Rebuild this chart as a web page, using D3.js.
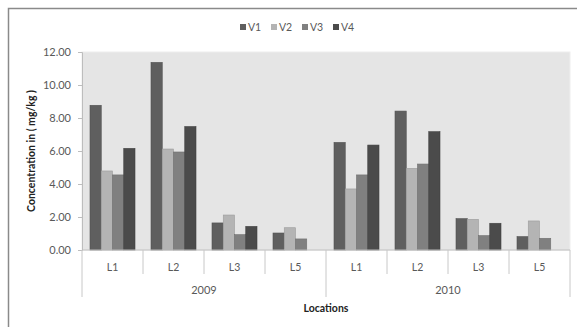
<!DOCTYPE html>
<html lang="en">
<head>
    <meta charset="UTF-8">
    <title>Concentration by location</title>
    <script src="https://d3js.org/d3.v7.min.js"></script>
    <style>
        body { margin: 0; background: #fff; }
        text { font-family: Lato, "Open Sans", sans-serif; }
    </style>
</head>
<body>
    <svg width="577" height="327"></svg>
    <script>
        // Data
        const years = ["2009", "2010"];
        const locations = ["L1", "L2", "L3", "L5"];
        const seriesNames = ["V1", "V2", "V3", "V4"];
        const V1 = [8.77, 11.37, 1.64, 1.03, 6.52, 8.42, 1.90, 0.81];
        const V2 = [4.79, 6.12, 2.12, 1.35, 3.70, 4.95, 1.86, 1.76];
        const V3 = [4.55, 5.94, 0.93, 0.67, 4.55, 5.21, 0.87, 0.71];
        const V4 = [6.16, 7.48, 1.43, 0.00, 6.36, 7.17, 1.62, 0.00];
        const yTicks = [0, 2, 4, 6, 8, 10, 12];
        const colors = ["#5f5f5f", "#b4b4b4", "#808080", "#4b4b4b"];

        const seriesValues = [V1, V2, V3, V4];
        const keys = [];
        years.forEach(y => locations.forEach(l => keys.push(y + "|" + l)));

        const margin = {top: 52, right: 7, bottom: 77, left: 82};
        const W = 577, H = 327;
        const plotW = W - margin.left - margin.right;
        const plotH = H - margin.top - margin.bottom;

        const svg = d3.select("svg");

        // outer chart frame (runs off the right and bottom of the picture)
        svg.append("rect")
            .attr("x", 8.5).attr("y", 8.5)
            .attr("width", 600).attr("height", 340)
            .attr("fill", "none")
            .attr("stroke", "#8a8a8a")
            .attr("stroke-width", 1.5);

        const g = svg.append("g")
            .attr("transform", `translate(${margin.left},${margin.top})`);

        const x = d3.scaleBand().domain(keys).range([0, plotW]);
        const xIn = d3.scaleBand().domain(seriesNames)
            .range([8, x.bandwidth() - 8]);
        const y = d3.scaleLinear().domain([0, 12]).range([plotH, 0]);

        // plot background
        g.append("rect")
            .attr("width", plotW).attr("height", plotH)
            .attr("fill", "#e5e5e5")
            .attr("stroke", "#eeeeee");

        // bars
        seriesNames.forEach((s, si) => {
            g.append("g").selectAll("rect")
              .data(seriesValues[si].map((v, i) => ({key: keys[i], v})))
              .enter().append("rect")
                .attr("x", d => x(d.key) + xIn(s))
                .attr("y", d => y(d.v))
                .attr("width", xIn.bandwidth())
                .attr("height", d => plotH - y(d.v))
                .attr("fill", colors[si])
                .attr("stroke", d3.color(colors[si]).darker(0.4))
                .attr("stroke-width", 0.6);
        });

        // y axis
        const yAxis = g.append("g")
            .call(d3.axisLeft(y).tickValues(yTicks).tickFormat(d3.format(".2f")).tickSize(4).tickPadding(7));
        yAxis.select(".domain").attr("stroke", "#bdbdbd");
        yAxis.selectAll(".tick line").attr("stroke", "#bdbdbd");
        yAxis.selectAll(".tick text")
            .attr("fill", "#595959")
            .style("font-family", "Lato, sans-serif")
            .style("font-size", "11px");

        // x axis line
        g.append("line")
            .attr("x1", 0).attr("x2", plotW)
            .attr("y1", plotH).attr("y2", plotH)
            .attr("stroke", "#bdbdbd");

        // separators between locations and years
        const seps = d3.range(keys.length + 1);
        g.append("g").selectAll("line")
          .data(seps)
          .enter().append("line")
            .attr("x1", i => i * x.bandwidth())
            .attr("x2", i => i * x.bandwidth())
            .attr("y1", plotH)
            .attr("y2", i => plotH + (i % locations.length === 0 ? 47 : 24))
            .attr("stroke", "#c8c8c8");

        // location labels
        g.append("g").selectAll("text")
          .data(keys)
          .enter().append("text")
            .attr("x", d => x(d) + x.bandwidth() / 2)
            .attr("y", plotH + 21)
            .attr("text-anchor", "middle")
            .attr("fill", "#595959")
            .style("font-size", "10.5px")
            .text(d => d.split("|")[1]);

        // year labels
        g.append("g").selectAll("text")
          .data(years)
          .enter().append("text")
            .attr("x", d => x(d + "|" + locations[0]) + x.bandwidth() * locations.length / 2)
            .attr("y", plotH + 44)
            .attr("text-anchor", "middle")
            .attr("fill", "#595959")
            .style("font-size", "11px")
            .text(d => d);

        // axis titles
        g.append("text")
            .attr("x", plotW / 2)
            .attr("y", plotH + 62)
            .attr("text-anchor", "middle")
            .attr("fill", "#222")
            .style("font-size", "10.5px")
            .style("font-weight", "bold")
            .text("Locations");

        svg.append("text")
            .attr("transform", `translate(35,${margin.top + plotH / 2}) rotate(-90)`)
            .attr("text-anchor", "middle")
            .attr("fill", "#222")
            .style("font-size", "10.5px")
            .style("font-weight", "bold")
            .text("Concentration in ( mg/kg )");

        // legend
        const legend = svg.append("g").attr("transform", "translate(240,24)");
        const lx = d3.scalePoint().domain(seriesNames).range([0, 93]);
        const item = legend.selectAll("g")
          .data(seriesNames)
          .enter().append("g")
            .attr("transform", d => `translate(${lx(d)},0)`);
        item.append("rect")
            .attr("width", 6).attr("height", 6)
            .attr("fill", (d, i) => colors[i]);
        item.append("text")
            .attr("x", 8).attr("y", 6.5)
            .attr("fill", "#595959")
            .style("font-size", "10.5px")
            .text(d => d);
    </script>
</body>
</html>
